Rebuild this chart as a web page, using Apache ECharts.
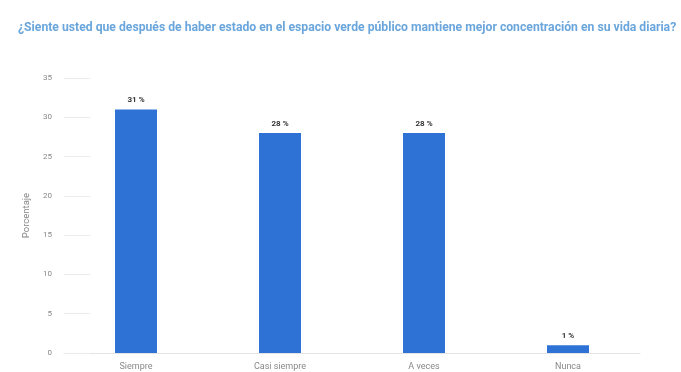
<!DOCTYPE html>
<html><head><meta charset="utf-8">
<script src="https://cdn.jsdelivr.net/npm/echarts@6/dist/echarts.min.js"></script>
<style>html,body{margin:0;padding:0;background:#fff}#c{width:681px;height:372px}</style>
</head><body><div id="c"></div>
<script>
const categories = ['Siempre', 'Casi siempre', 'A veces', 'Nunca'];
const values = [31, 28, 28, 1];
const yTicks = [0, 5, 10, 15, 20, 25, 30, 35];
const titleText = '¿Siente usted que después de haber estado en el espacio verde público mantiene mejor concentración en su vida diaria?';
const chart = echarts.init(document.getElementById('c'));
chart.setOption({
  animation: false,
  title: { text: titleText, left: 13, top: 17, textStyle: { fontSize: 12.2, fontWeight: 'bold', color: '#6aa6dc', fontFamily: 'Roboto' } },
  grid: { left: 64, right: 41, top: 78, bottom: 19 },
  xAxis: {
    type: 'category', data: categories,
    axisLine: { lineStyle: { color: '#e3e3e3' } },
    axisTick: { show: false },
    axisLabel: { color: '#888', fontSize: 9, margin: 9, fontFamily: 'Roboto' }
  },
  yAxis: {
    type: 'value', min: yTicks[0], max: yTicks[yTicks.length - 1], interval: 5,
    name: 'Porcentaje', nameLocation: 'middle', nameGap: 32, nameRotate: 90,
    nameTextStyle: { color: '#888', fontSize: 9.5, fontFamily: 'Roboto' },
    axisLine: { show: false },
    axisTick: { show: true, inside: true, length: 26, lineStyle: { color: '#ececec' } },
    splitLine: { show: false },
    axisLabel: { color: '#888', fontSize: 8, margin: 12, fontFamily: 'Roboto' }
  },
  series: [{
    type: 'bar', data: values, barWidth: 42,
    itemStyle: { color: '#2f72d6' },
    label: { show: true, position: 'top', formatter: '{c} %', color: '#333', fontSize: 8, fontWeight: 'bold', distance: 5, fontFamily: 'Roboto' }
  }]
});
</script></body></html>
